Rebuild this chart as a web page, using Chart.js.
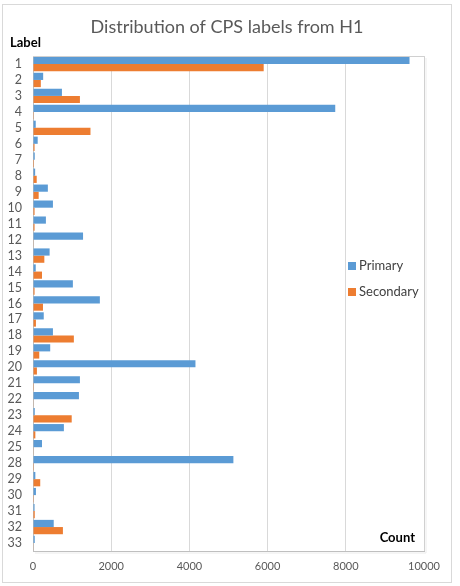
<!DOCTYPE html>
<html>
<head>
<meta charset="utf-8">
<script src="https://cdn.jsdelivr.net/npm/chart.js@4.4.1/dist/chart.umd.min.js"></script>
<style>
  html, body { margin: 0; padding: 0; background: #fff; }
  #wrap { width: 460px; height: 586px; position: relative; }
</style>
</head>
<body>
<div id="wrap"><canvas id="cpsChart" width="460" height="586"></canvas></div>
<script>
// Label values (26 and 27 are missing in the source)
const labels = ['1', '2', '3', '4', '5', '6', '7', '8', '9', '10', '11', '12', '13', '14', '15', '16',
  '17', '18', '19', '20', '21', '22', '23', '24', '25', '28', '29', '30', '31', '32', '33'];
const primaryCounts = [9630, 260, 740, 7730, 70, 120, 45, 55, 380, 510, 330, 1280, 425, 70, 1020, 1710,
  275, 510, 440, 4155, 1200, 1175, 45, 790, 230, 5125, 60, 75, 40, 530, 45];
const secondaryCounts = [5900, 200, 1200, 20, 1470, 40, 25, 95, 145, 40, 40, 10, 290, 230, 40, 255,
  75, 1045, 160, 100, 20, 10, 990, 60, 10, 5, 185, 20, 45, 765, 15];
const seriesNames = ['Primary', 'Secondary'];
const seriesColors = ['#5B9BD5', '#ED7D31'];
const chartTitle = 'Distribution of CPS labels from H1';

const fontFam = 'Lato, "Open Sans", sans-serif';

// draws frame, title, axis captions and the legend Excel-style
const decorPlugin = {
  id: 'decor',
  beforeDraw(chart) {
    const c = chart.ctx;
    c.save();
    c.fillStyle = '#fff';
    c.fillRect(0, 0, chart.width, chart.height);
    c.strokeStyle = '#d9d9d9';
    c.lineWidth = 1;
    c.strokeRect(2.5, 4.5, 449, 578);
    c.restore();
  },
  afterDraw(chart) {
    const c = chart.ctx;
    const a = chart.chartArea;
    c.save();
    // plot area frame
    c.strokeStyle = '#d0d0d0';
    c.lineWidth = 1;
    c.beginPath();
    c.moveTo(a.left, a.top + 0.5);
    c.lineTo(a.right + 0.5, a.top + 0.5);
    c.lineTo(a.right + 0.5, a.bottom);
    c.stroke();
    c.strokeStyle = '#ececec';
    c.beginPath();
    c.moveTo(a.right + 2, a.top + 2);
    c.lineTo(a.right + 2, a.bottom + 2);
    c.lineTo(a.left + 2, a.bottom + 2);
    c.stroke();

    // title
    c.fillStyle = '#595959';
    c.font = '18px ' + fontFam;
    c.textAlign = 'center';
    c.textBaseline = 'middle';
    c.fillText(chartTitle, 227, 27);

    // axis captions
    c.fillStyle = '#000';
    c.font = 'bold 13px ' + fontFam;
    c.textAlign = 'left';
    c.fillText('Label', 10, 43);
    c.textAlign = 'right';
    c.fillText('Count', a.right - 9, a.bottom - 13);

    // legend
    c.font = '13px ' + fontFam;
    c.textAlign = 'left';
    seriesNames.forEach((name, i) => {
      const y = 266 + i * 26;
      c.fillStyle = seriesColors[i];
      c.fillRect(348, y - 4, 8, 8);
      c.fillStyle = '#404040';
      c.fillText(name, 359, y);
    });
    c.restore();
  }
};

const ctx = document.getElementById('cpsChart').getContext('2d');
const cpsChart = new Chart(ctx, {
  type: 'bar',
  data: {
    labels: labels,
    datasets: [{
      label: seriesNames[0],
      data: primaryCounts,
      backgroundColor: seriesColors[0],
      categoryPercentage: 0.9,
      barPercentage: 1.0
    }, {
      label: seriesNames[1],
      data: secondaryCounts,
      backgroundColor: seriesColors[1],
      categoryPercentage: 0.9,
      barPercentage: 1.0
    }]
  },
  options: {
    indexAxis: 'y',
    responsive: false,
    animation: false,
    layout: { padding: { left: 0, right: 36, top: 56, bottom: 4 } },
    plugins: {
      legend: { display: false },
      tooltip: { enabled: false },
      title: { display: false }
    },
    scales: {
      x: {
        min: 0,
        max: 10000,
        ticks: {
          stepSize: 2000,
          color: '#595959',
          font: { family: fontFam, size: 11 },
          padding: 9,
          maxRotation: 0,
          callback: (v) => String(v)
        },
        grid: { color: '#d9d9d9', drawTicks: false },
        border: { color: '#bfbfbf' },
        afterFit(scale) { scale.height = 31; }
      },
      y: {
        ticks: {
          color: '#595959',
          font: { family: fontFam, size: 12.5 },
          padding: 11,
          autoSkip: false
        },
        grid: { display: false, drawTicks: false },
        border: { color: '#bfbfbf' },
        afterFit(scale) { scale.width = 33; }
      }
    }
  },
  plugins: [decorPlugin]
});
</script>
</body>
</html>
